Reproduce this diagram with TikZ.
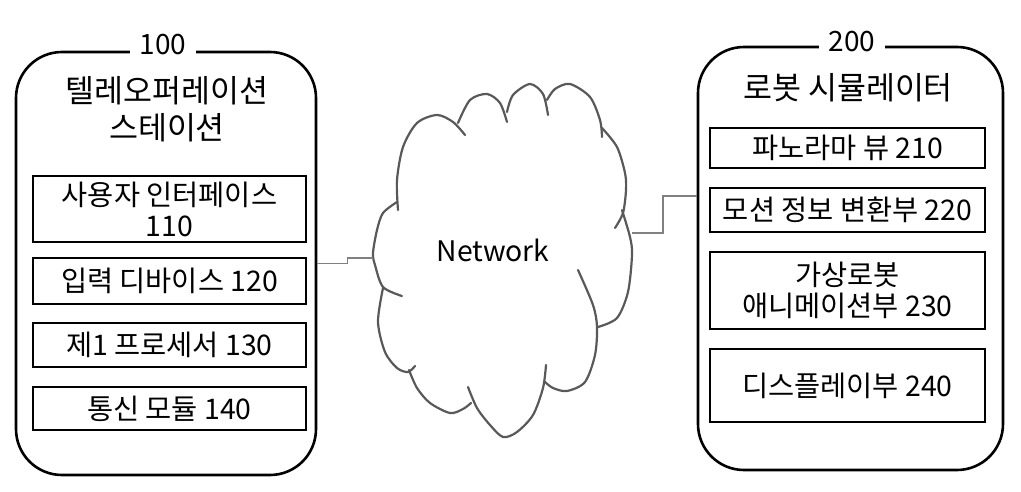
\documentclass[tikz,border=0pt]{standalone}
\usepackage{fontspec}
\setmainfont{Noto Sans CJK KR}
\definecolor{cloudgray}{HTML}{595959}
\definecolor{linkgray}{HTML}{808080}

\begin{document}
\begin{tikzpicture}[x=1pt,y=-1pt,
    station/.style={draw, line width=2.6pt, rounded corners=46pt, minimum width=300pt, minimum height=423pt},
    unit/.style={draw, line width=2.6pt, inner sep=0pt, align=center, font=\fontsize{28.4}{31}\selectfont},
    tag/.style={fill=white, inner xsep=10pt, inner ysep=0pt, font=\fontsize{28}{30}\selectfont},
    heading/.style={align=center, font=\fontsize{31.5}{37}\selectfont},
    puff/.style={draw=cloudgray, line width=2.2pt, line cap=round},
    link/.style={draw=linkgray, line width=1.6pt}]
    \useasboundingbox (0,0) rectangle (1021,492);
    % teleoperation station
    \node[station] (tele) at (166,263.5) {};
    \node[tag] (teletag) at (163,45) {100};
    \node[heading] (teletitle) at (167,109) {텔레오퍼레이션\\스테이션};
    \node[unit, minimum width=273pt, minimum height=66pt] (ui) at (169.5,209) {사용자 인터페이스\\110};
    \node[unit, minimum width=273pt, minimum height=46pt] (input) at (169.5,281) {입력 디바이스 120};
    \node[unit, minimum width=273pt, minimum height=44pt] (cpu) at (169.5,345) {제1 프로세서 130};
    \node[unit, minimum width=273pt, minimum height=43pt] (comm) at (169.5,408.5) {통신 모듈 140};
    % robot simulator
    \node[station, minimum width=305pt] (sim) at (850.5,258.5) {};
    \node[tag] (simtag) at (852,42) {200};
    \node[heading] (simtitle) at (848,88) {로봇 시뮬레이터};
    \node[unit, minimum width=275pt, minimum height=40pt] (pano) at (847.5,148) {파노라마 뷰 210};
    \node[unit, minimum width=275pt, minimum height=44pt] (motion) at (847.5,210) {모션 정보 변환부 220};
    \node[unit, minimum width=275pt, minimum height=77pt] (anim) at (847.5,290.5) {가상로봇\\애니메이션부 230};
    \node[unit, minimum width=275pt, minimum height=73pt] (disp) at (847.5,385.5) {디스플레이부 240};
    % network cloud
    \draw[puff] plot[smooth] coordinates {(398,210) (397,180) (403,147) (417,123) (437,115) (453,122) (465,135)};
    \draw[puff] plot[smooth] coordinates {(458,123) (470,100) (487,94) (500,103) (507,122)};
    \draw[puff] plot[smooth] coordinates {(507,112) (513,95) (530,84) (543,94) (548,115)};
    \draw[puff] plot[smooth] coordinates {(547,100) (555,89) (570,84) (590,97) (600,120) (602,137)};
    \draw[puff] plot[smooth] coordinates {(602,128) (617,147) (625,173) (626,190) (623,213) (615,228)};
    \draw[puff] plot[smooth] coordinates {(622,210) (630,237) (632,255) (628,292) (617,318) (598,327)};
    \draw[puff] plot[smooth] coordinates {(578,270) (593,305) (597,327) (595,355) (585,382) (567,391) (553,388) (545,382)};
    \draw[puff] plot[smooth] coordinates {(546,365) (543,388) (533,415) (517,432) (503,437) (490,425) (477,408) (468,387)};
    \draw[puff] plot[smooth] coordinates {(409,370) (417,388) (430,403) (450,413) (463,409) (471,403)};
    \draw[puff] plot[smooth] coordinates {(383,288) (378,322) (385,352) (397,368) (408,372) (415,366)};
    \draw[puff] plot[smooth] coordinates {(397,202) (383,213) (377,230) (373,253) (375,265) (383,287) (402,296)};
    \node (net) at (493,250) {\fontsize{28.3}{30}\selectfont Network};
    \coordinate (netW) at (373,258);
    \coordinate (netE) at (632,233);
    % links
    \draw[link] (tele.east) -- ++(30,0) |- (netW);
    \draw[link] (netE) -- ++(31,0) |- ([yshift=62.5pt]sim.west);
\end{tikzpicture}
\end{document}
